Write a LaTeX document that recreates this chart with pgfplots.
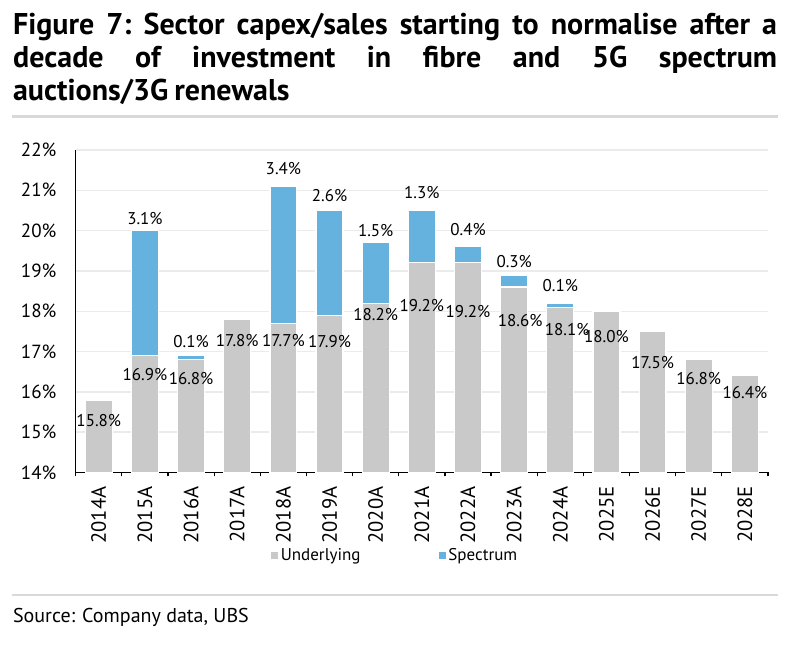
\documentclass[border=0pt]{standalone}
\usepackage{fontspec}
\setmainfont{PT Sans}
\usepackage{pgfplots}
\usepackage{pgfplotstable}
\pgfplotsset{compat=1.18}
\definecolor{ubsgrey}{HTML}{C9C9C9}
\definecolor{ubsblue}{HTML}{66B2DF}
\definecolor{gridgrey}{HTML}{EBEBEB}
\definecolor{rulegrey}{HTML}{D9D9D9}

\pgfplotstableread{
x u s
0 15.8 0.0
1 16.9 3.1
2 16.8 0.1
3 17.8 0.0
4 17.7 3.4
5 17.9 2.6
6 18.2 1.5
7 19.2 1.3
8 19.2 0.4
9 18.6 0.3
10 18.1 0.1
11 18.0 0.0
12 17.5 0.0
13 16.8 0.0
14 16.4 0.0
}\capex

\pgfplotstableread{
x y v
0 15.30 15.8
1 16.44 16.9
2 16.34 16.8
3 17.27 17.8
4 17.27 17.7
5 17.25 17.9
6 17.91 18.2
7 18.14 19.2
8 17.99 19.2
9.13 17.77 18.6
10.15 17.55 18.1
11 17.37 18.0
12 16.72 17.5
13 16.33 16.8
14 15.98 16.4
1 20.31 3.1
2 17.25 0.1
4 21.55 3.4
5 20.88 2.6
6 19.99 1.5
7 20.94 1.3
8 20.02 0.4
9 19.23 0.3
10 18.63 0.1
}\labels

\begin{document}
\begin{tikzpicture}
\path (0pt,0pt) rectangle (400pt,-323.5pt);

\node[anchor=north west, inner sep=0pt, text width=382pt, align=justify,
      font=\bfseries\fontsize{15}{16.4}\selectfont] at (6.35pt,-6.4pt)
  {\frenchspacing\hyphenpenalty=10000\spaceskip=0.2em plus 1em minus 0.05em Figure 7: Sector capex/sales starting to normalise after a\linebreak decade of investment in fibre and 5G spectrum\linebreak auctions/3G renewals};

\draw[rulegrey, line width=1.1pt] (6pt,-58.3pt) -- (389pt,-58.3pt);
\draw[rulegrey, line width=1.1pt] (6pt,-297.5pt) -- (389pt,-297.5pt);

\node[anchor=base west, inner sep=0pt, font=\fontsize{10}{12}\selectfont] at (6.35pt,-311.3pt)
  {Source: Company data, UBS};

\begin{axis}[
  at={(37.85pt,-236.25pt)}, anchor=south west,
  scale only axis, width=346.15pt, height=161.25pt,
  xmin=-0.5, xmax=14.5, ymin=14, ymax=22,
  axis lines*=left,
  set layers,
  axis line style={black, line width=0.7pt, on layer=axis foreground},
  ytick={14,15,...,22},
  yticklabels={14\%,15\%,16\%,17\%,18\%,19\%,20\%,21\%,22\%},
  ymajorgrids, grid style={gridgrey, line width=0.7pt},
  xtick={-0.5,0.5,...,14.5},
  x tick label as interval,
  xticklabels={2014A,2015A,2016A,2017A,2018A,2019A,2020A,2021A,2022A,2023A,2024A,2025E,2026E,2027E,2028E},
  tick align=outside, major tick length=2pt,
  ytick style={draw=none},
  xtick style={black, line width=0.6pt},
  xticklabel style={yshift=-4.8pt, rotate=90, anchor=east, inner sep=0pt, font=\fontsize{10.3}{12}\selectfont},
  yticklabel style={anchor=east, inner sep=0pt, xshift=-7.5pt, font=\fontsize{9.5}{11}\selectfont},
  /pgf/number format/assume math mode=true,
  legend style={at={(0.462,-0.258)}, anchor=center, draw=none, fill=none,
    legend columns=2, font=\fontsize{8.5}{10}\selectfont,
    /tikz/every even column/.append style={column sep=38pt},
    nodes={inner sep=1.2pt}},
  legend image code/.code={\fill[#1] (0pt,-1.75pt) rectangle (3.5pt,1.75pt);},
]
\addlegendimage{fill=ubsgrey, draw=none}
\addlegendentry{Underlying}
\addlegendimage{fill=ubsblue, draw=none}
\addlegendentry{Spectrum}

\addplot[ybar, bar width=0.583, bar shift=0pt, fill=ubsblue, draw=white, line width=0.6pt, forget plot]
  table[x=x, y expr=\thisrow{u}+\thisrow{s}] {\capex};
\addplot[ybar, bar width=0.583, bar shift=0pt, fill=ubsgrey, draw=white, line width=0.6pt, forget plot]
  table[x=x, y=u] {\capex};

\addplot[only marks, mark=*, mark size=0pt, forget plot,
  scatter/use mapped color={draw=none, fill=none},
  mark options={draw=none, fill=none},
  point meta=explicit,
  nodes near coords={\pgfmathprintnumber[fixed, fixed zerofill, precision=1]{\pgfplotspointmeta}\%},
  every node near coord/.append style={anchor=center, inner sep=0pt, text=black, font=\fontsize{8.5}{10}\selectfont}]
  table[x=x, y=y, meta=v] {\labels};
\end{axis}
\end{tikzpicture}
\end{document}
